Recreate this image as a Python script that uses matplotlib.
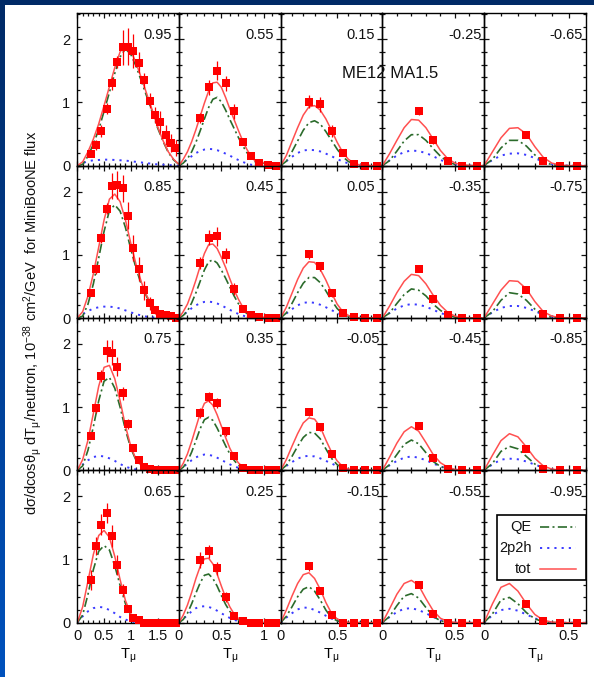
import matplotlib
matplotlib.use("Agg")
import matplotlib.pyplot as plt
import numpy as np
from matplotlib.ticker import MultipleLocator, FuncFormatter
from matplotlib.colors import LinearSegmentedColormap
from matplotlib.patches import Rectangle
from matplotlib.transforms import blended_transform_factory

plt.rcParams['font.family'] = ['Liberation Sans', 'DejaVu Sans']
plt.rcParams['mathtext.fontset'] = 'custom'
plt.rcParams['mathtext.rm'] = 'Liberation Sans'
plt.rcParams['mathtext.it'] = 'Liberation Sans'
plt.rcParams['mathtext.bf'] = 'Liberation Sans:bold'
plt.rcParams['mathtext.sf'] = 'Liberation Sans'

# ---------------- data ----------------
panel_labels = [["0.95", "0.55", "0.15", "-0.25", "-0.65"],
                ["0.85", "0.45", "0.05", "-0.35", "-0.75"],
                ["0.75", "0.35", "-0.05", "-0.45", "-0.85"],
                ["0.65", "0.25", "-0.15", "-0.55", "-0.95"]]
col_xmax = [1.9, 1.2, 0.9, 0.7, 0.6]

# curve T_mu grids per column
cx0 = [0.0, 0.1, 0.2, 0.3, 0.4, 0.5, 0.6, 0.7, 0.8, 0.9, 1.0, 1.1, 1.2, 1.3, 1.4, 1.5, 1.6, 1.7, 1.8, 1.9]
cx1 = [0.0, 0.05, 0.1, 0.15, 0.2, 0.25, 0.3, 0.35, 0.4, 0.45, 0.5, 0.55, 0.6, 0.65, 0.7, 0.75, 0.8, 0.85, 0.9, 1.2]
cx2 = [0.0, 0.05, 0.1, 0.15, 0.2, 0.25, 0.3, 0.35, 0.4, 0.45, 0.5, 0.55, 0.6, 0.65, 0.7, 0.75, 0.8, 0.85, 0.9]
cx3 = [0.0, 0.05, 0.1, 0.15, 0.2, 0.25, 0.3, 0.35, 0.4, 0.45, 0.5, 0.55, 0.6, 0.65, 0.7]
cx4 = [0.0, 0.05, 0.1, 0.15, 0.2, 0.25, 0.3, 0.35, 0.4, 0.45, 0.5, 0.55, 0.6]

# data T_mu bins per column
dx0 = [0.25, 0.35, 0.45, 0.55, 0.65, 0.75, 0.85, 0.95, 1.05, 1.15, 1.25, 1.35, 1.45, 1.55, 1.65, 1.75, 1.85]
dx1 = [0.25, 0.35, 0.45, 0.55, 0.65, 0.75, 0.85, 0.95, 1.05, 1.15]
dx2 = [0.25, 0.35, 0.45, 0.55, 0.65, 0.75, 0.85]
dx3 = [0.25, 0.35, 0.45, 0.55, 0.65]
dx4 = [0.25, 0.35, 0.45, 0.55]

# ---- column 0 ----
tot_p95 = [0, 0.06, 0.22, 0.42, 0.66, 0.95, 1.25, 1.55, 1.80, 1.91, 1.82, 1.62, 1.38, 1.13, 0.88, 0.62, 0.40, 0.22, 0.10, 0.02]
qe_p95 = [0, 0.02, 0.15, 0.34, 0.57, 0.86, 1.16, 1.46, 1.72, 1.85, 1.76, 1.57, 1.33, 1.09, 0.85, 0.60, 0.39, 0.21, 0.09, 0.02]
mp_p95 = [0, 0.04, 0.07, 0.085, 0.09, 0.095, 0.095, 0.09, 0.085, 0.08, 0.07, 0.06, 0.05, 0.04, 0.03, 0.02, 0.015, 0.01, 0.005, 0]
dat_p95 = [0.19, 0.32, 0.55, 0.90, 1.30, 1.64, 1.87, 1.88, 1.82, 1.63, 1.35, 1.03, 0.80, 0.69, 0.49, 0.36, 0.28]
err_p95 = [0.05, 0.08, 0.09, 0.09, 0.10, 0.10, 0.27, 0.29, 0.27, 0.16, 0.12, 0.12, 0.12, 0.18, 0.16, 0.14, 0.12]

tot_p85 = [0, 0.10, 0.35, 0.70, 1.12, 1.55, 1.88, 1.96, 1.84, 1.55, 1.18, 0.84, 0.56, 0.35, 0.20, 0.11, 0.05, 0.02, 0.01, 0]
qe_p85 = [0, 0.03, 0.22, 0.54, 0.95, 1.37, 1.70, 1.79, 1.69, 1.43, 1.09, 0.78, 0.52, 0.33, 0.19, 0.105, 0.05, 0.02, 0.01, 0]
mp_p85 = [0, 0.06, 0.11, 0.15, 0.17, 0.18, 0.18, 0.17, 0.15, 0.12, 0.09, 0.06, 0.04, 0.02, 0.01, 0.005, 0, 0, 0, 0]
dat_p85 = [0.40, 0.77, 1.26, 1.73, 2.09, 2.10, 2.05, 1.62, 1.11, 0.77, 0.44, 0.23, 0.12, 0.07, 0.05, 0.03, 0.0]
err_p85 = [0.05, 0.07, 0.08, 0.09, 0.20, 0.22, 0.22, 0.21, 0.21, 0.19, 0.15, 0.10, 0.06, 0.03, 0.03, 0.02, 0.02]

tot_p75 = [0, 0.17, 0.48, 0.90, 1.33, 1.63, 1.66, 1.45, 1.10, 0.70, 0.38, 0.17, 0.07, 0.02, 0.005, 0, 0, 0, 0, 0]
qe_p75 = [0, 0.07, 0.32, 0.69, 1.10, 1.41, 1.47, 1.30, 1.00, 0.64, 0.35, 0.155, 0.065, 0.02, 0.005, 0, 0, 0, 0, 0]
mp_p75 = [0, 0.09, 0.16, 0.21, 0.23, 0.22, 0.19, 0.15, 0.10, 0.06, 0.03, 0.015, 0.005, 0, 0, 0, 0, 0, 0, 0]
dat_p75 = [0.55, 0.98, 1.49, 1.89, 1.86, 1.64, 1.22, 0.74, 0.36, 0.16, 0.05, 0.02, 0.01, 0, 0, 0, 0]
err_p75 = [0.05, 0.07, 0.10, 0.17, 0.20, 0.15, 0.10, 0.08, 0.06, 0.04, 0.03, 0.02, 0.02, 0.01, 0.01, 0.01, 0.01]

tot_p65 = [0, 0.25, 0.66, 1.08, 1.38, 1.46, 1.35, 1.05, 0.68, 0.35, 0.14, 0.05, 0.015, 0, 0, 0, 0, 0, 0, 0]
qe_p65 = [0, 0.12, 0.45, 0.84, 1.13, 1.22, 1.15, 0.90, 0.59, 0.30, 0.12, 0.045, 0.012, 0, 0, 0, 0, 0, 0, 0]
mp_p65 = [0, 0.10, 0.18, 0.23, 0.25, 0.24, 0.20, 0.15, 0.09, 0.05, 0.02, 0.005, 0, 0, 0, 0, 0, 0, 0, 0]
dat_p65 = [0.67, 1.21, 1.55, 1.74, 1.37, 0.91, 0.52, 0.22, 0.08, 0.04, 0, 0, 0, 0, 0, 0, 0]
err_p65 = [0.16, 0.14, 0.17, 0.16, 0.17, 0.16, 0.10, 0.05, 0.04, 0.03, 0.02, 0.01, 0, 0, 0, 0, 0]

# ---- column 1 ----
tot_p55 = [0, 0.10, 0.22, 0.38, 0.57, 0.78, 0.99, 1.18, 1.31, 1.32, 1.24, 1.08, 0.90, 0.73, 0.56, 0.40, 0.26, 0.15, 0.07, 0]
qe_p55 = [0, 0.04, 0.11, 0.22, 0.37, 0.55, 0.74, 0.92, 1.05, 1.08, 1.01, 0.88, 0.73, 0.59, 0.45, 0.32, 0.21, 0.12, 0.06, 0]
mp_p55 = [0, 0.05, 0.10, 0.15, 0.20, 0.23, 0.255, 0.265, 0.26, 0.245, 0.22, 0.19, 0.16, 0.12, 0.09, 0.06, 0.035, 0.015, 0.005, 0]
dat_p55 = [0.76, 1.24, 1.50, 1.30, 0.86, 0.38, 0.15, 0.04, 0.01, 0]
err_p55 = [0.08, 0.12, 0.15, 0.12, 0.12, 0.06, 0.03, 0.01, 0, 0]

tot_p45 = [0, 0.10, 0.22, 0.40, 0.60, 0.82, 1.02, 1.16, 1.17, 1.10, 0.96, 0.80, 0.62, 0.45, 0.30, 0.18, 0.09, 0.04, 0.01, 0]
qe_p45 = [0, 0.04, 0.11, 0.24, 0.40, 0.58, 0.76, 0.89, 0.92, 0.87, 0.76, 0.63, 0.49, 0.35, 0.23, 0.14, 0.07, 0.03, 0.01, 0]
mp_p45 = [0, 0.05, 0.10, 0.155, 0.20, 0.235, 0.255, 0.26, 0.25, 0.23, 0.20, 0.165, 0.13, 0.095, 0.065, 0.04, 0.02, 0.01, 0.003, 0]
dat_p45 = [0.87, 1.27, 1.29, 0.99, 0.46, 0.14, 0.04, 0.01, 0, 0]
err_p45 = [0.10, 0.12, 0.15, 0.12, 0.10, 0.03, 0.02, 0, 0, 0]

tot_p35 = [0, 0.11, 0.26, 0.46, 0.68, 0.90, 1.06, 1.10, 1.03, 0.88, 0.70, 0.52, 0.35, 0.22, 0.12, 0.06, 0.025, 0.01, 0.003, 0]
qe_p35 = [0, 0.05, 0.14, 0.29, 0.47, 0.66, 0.80, 0.84, 0.79, 0.67, 0.53, 0.39, 0.26, 0.16, 0.08, 0.04, 0.015, 0.005, 0.002, 0]
mp_p35 = [0, 0.05, 0.11, 0.16, 0.205, 0.235, 0.25, 0.245, 0.23, 0.20, 0.165, 0.13, 0.095, 0.065, 0.04, 0.02, 0.01, 0.004, 0.001, 0]
dat_p35 = [0.91, 1.16, 1.06, 0.62, 0.23, 0.04, 0.01, 0, 0, 0]
err_p35 = [0.08, 0.08, 0.08, 0.07, 0.03, 0.02, 0, 0, 0, 0]

tot_p25 = [0, 0.12, 0.28, 0.48, 0.70, 0.89, 1.01, 1.02, 0.93, 0.77, 0.58, 0.40, 0.25, 0.14, 0.07, 0.03, 0.01, 0.004, 0.001, 0]
qe_p25 = [0, 0.05, 0.15, 0.30, 0.47, 0.63, 0.75, 0.77, 0.70, 0.58, 0.43, 0.29, 0.18, 0.10, 0.045, 0.02, 0.008, 0.002, 0, 0]
mp_p25 = [0, 0.06, 0.12, 0.18, 0.23, 0.255, 0.26, 0.25, 0.225, 0.19, 0.15, 0.11, 0.075, 0.045, 0.025, 0.012, 0.005, 0.002, 0, 0]
dat_p25 = [0.99, 1.13, 0.86, 0.40, 0.11, 0.03, 0, 0, 0, 0]
err_p25 = [0.13, 0.10, 0.10, 0.08, 0.03, 0.01, 0, 0, 0, 0]

# ---- column 2 ----
tot_p15 = [0, 0.16, 0.38, 0.60, 0.80, 0.93, 0.95, 0.88, 0.74, 0.56, 0.37, 0.21, 0.10, 0.04, 0.01, 0.003, 0, 0, 0]
qe_p15 = [0, 0.07, 0.22, 0.39, 0.56, 0.68, 0.71, 0.66, 0.54, 0.40, 0.26, 0.14, 0.065, 0.025, 0.007, 0.002, 0, 0, 0]
mp_p15 = [0, 0.07, 0.14, 0.20, 0.24, 0.25, 0.245, 0.225, 0.19, 0.15, 0.105, 0.065, 0.035, 0.015, 0.005, 0, 0, 0, 0]
dat_p15 = [1.01, 0.97, 0.55, 0.20, 0.03, 0, 0]
err_p15 = [0.10, 0.12, 0.10, 0.03, 0.01, 0, 0]

tot_p05 = [0, 0.17, 0.39, 0.61, 0.79, 0.89, 0.88, 0.77, 0.60, 0.40, 0.22, 0.10, 0.04, 0.01, 0.003, 0, 0, 0, 0]
qe_p05 = [0, 0.08, 0.23, 0.40, 0.55, 0.64, 0.64, 0.56, 0.43, 0.28, 0.15, 0.065, 0.025, 0.007, 0.002, 0, 0, 0, 0]
mp_p05 = [0, 0.07, 0.14, 0.20, 0.24, 0.25, 0.24, 0.21, 0.17, 0.125, 0.08, 0.045, 0.02, 0.008, 0.002, 0, 0, 0, 0]
dat_p05 = [1.01, 0.82, 0.40, 0.08, 0.01, 0, 0]
err_p05 = [0.07, 0.07, 0.06, 0.02, 0, 0, 0]

tot_m05 = [0, 0.17, 0.38, 0.58, 0.75, 0.83, 0.81, 0.69, 0.48, 0.29, 0.15, 0.06, 0.02, 0.005, 0, 0, 0, 0, 0]
qe_m05 = [0, 0.08, 0.22, 0.38, 0.52, 0.60, 0.59, 0.50, 0.34, 0.19, 0.09, 0.035, 0.01, 0.003, 0, 0, 0, 0, 0]
mp_m05 = [0, 0.07, 0.13, 0.185, 0.22, 0.23, 0.22, 0.19, 0.15, 0.11, 0.065, 0.03, 0.012, 0.004, 0, 0, 0, 0, 0]
dat_m05 = [0.92, 0.68, 0.26, 0.04, 0, 0, 0]
err_m05 = [0.06, 0.05, 0.04, 0.01, 0, 0, 0]

tot_m15 = [0, 0.20, 0.42, 0.62, 0.76, 0.79, 0.70, 0.53, 0.32, 0.15, 0.06, 0.02, 0.005, 0, 0, 0, 0, 0, 0]
qe_m15 = [0, 0.10, 0.25, 0.41, 0.53, 0.57, 0.50, 0.36, 0.20, 0.08, 0.03, 0.008, 0.002, 0, 0, 0, 0, 0, 0]
mp_m15 = [0, 0.08, 0.15, 0.21, 0.24, 0.235, 0.20, 0.16, 0.11, 0.065, 0.03, 0.01, 0.003, 0, 0, 0, 0, 0, 0]
dat_m15 = [0.89, 0.50, 0.12, 0, 0, 0, 0]
err_m15 = [0.07, 0.05, 0.02, 0, 0, 0, 0]

# ---- column 3 ----
tot_m25 = [0, 0.19, 0.40, 0.60, 0.73, 0.72, 0.60, 0.42, 0.24, 0.11, 0.04, 0.01, 0.002, 0, 0]
qe_m25 = [0, 0.08, 0.23, 0.39, 0.49, 0.49, 0.40, 0.27, 0.15, 0.06, 0.02, 0.005, 0, 0, 0]
mp_m25 = [0, 0.085, 0.16, 0.215, 0.24, 0.23, 0.20, 0.15, 0.09, 0.05, 0.02, 0.006, 0.001, 0, 0]
dat_m25 = [0.86, 0.40, 0.08, 0, 0]
err_m25 = [0.06, 0.05, 0.02, 0, 0]

tot_m35 = [0, 0.19, 0.40, 0.58, 0.69, 0.67, 0.54, 0.36, 0.20, 0.09, 0.03, 0.008, 0.002, 0, 0]
qe_m35 = [0, 0.08, 0.23, 0.37, 0.46, 0.44, 0.35, 0.22, 0.12, 0.05, 0.015, 0.004, 0, 0, 0]
mp_m35 = [0, 0.08, 0.15, 0.20, 0.22, 0.21, 0.18, 0.13, 0.08, 0.04, 0.015, 0.004, 0, 0, 0]
dat_m35 = [0.78, 0.30, 0.04, 0, 0]
err_m35 = [0.04, 0.03, 0.01, 0, 0]

tot_m45 = [0, 0.21, 0.43, 0.61, 0.69, 0.62, 0.44, 0.25, 0.12, 0.05, 0.015, 0.004, 0, 0, 0]
qe_m45 = [0, 0.09, 0.25, 0.41, 0.48, 0.42, 0.28, 0.14, 0.06, 0.02, 0.005, 0, 0, 0, 0]
mp_m45 = [0, 0.08, 0.15, 0.20, 0.22, 0.20, 0.16, 0.11, 0.06, 0.03, 0.01, 0.003, 0, 0, 0]
dat_m45 = [0.70, 0.20, 0.02, 0, 0]
err_m45 = [0.04, 0.02, 0, 0, 0]

tot_m55 = [0, 0.22, 0.45, 0.62, 0.67, 0.59, 0.38, 0.19, 0.07, 0.02, 0.005, 0, 0, 0, 0]
qe_m55 = [0, 0.10, 0.27, 0.42, 0.46, 0.39, 0.24, 0.10, 0.03, 0.005, 0, 0, 0, 0, 0]
mp_m55 = [0, 0.09, 0.17, 0.22, 0.23, 0.20, 0.15, 0.09, 0.04, 0.015, 0.002, 0, 0, 0, 0]
dat_m55 = [0.59, 0.14, 0, 0, 0]
err_m55 = [0.03, 0.02, 0, 0, 0]

# ---- column 4 ----
tot_m65 = [0, 0.22, 0.44, 0.59, 0.60, 0.50, 0.30, 0.13, 0.04, 0.01, 0, 0, 0]
qe_m65 = [0, 0.10, 0.28, 0.40, 0.40, 0.31, 0.17, 0.06, 0.015, 0.003, 0, 0, 0]
mp_m65 = [0, 0.09, 0.16, 0.19, 0.195, 0.17, 0.12, 0.06, 0.025, 0.007, 0.001, 0, 0]
dat_m65 = [0.49, 0.08, 0, 0]
err_m65 = [0.03, 0.01, 0, 0]

tot_m75 = [0, 0.22, 0.44, 0.59, 0.58, 0.46, 0.26, 0.10, 0.03, 0.007, 0, 0, 0]
qe_m75 = [0, 0.10, 0.28, 0.40, 0.38, 0.28, 0.14, 0.05, 0.01, 0.002, 0, 0, 0]
mp_m75 = [0, 0.09, 0.16, 0.19, 0.19, 0.16, 0.11, 0.05, 0.02, 0.005, 0, 0, 0]
dat_m75 = [0.45, 0.06, 0, 0]
err_m75 = [0.03, 0.01, 0, 0]

tot_m85 = [0, 0.24, 0.47, 0.58, 0.53, 0.37, 0.19, 0.07, 0.02, 0.004, 0, 0, 0]
qe_m85 = [0, 0.11, 0.30, 0.38, 0.34, 0.22, 0.10, 0.03, 0.007, 0.001, 0, 0, 0]
mp_m85 = [0, 0.095, 0.17, 0.185, 0.175, 0.14, 0.09, 0.045, 0.015, 0.004, 0, 0, 0]
dat_m85 = [0.34, 0.02, 0, 0]
err_m85 = [0.02, 0.01, 0, 0]

tot_m95 = [0, 0.30, 0.56, 0.62, 0.50, 0.30, 0.13, 0.04, 0.01, 0, 0, 0, 0]
qe_m95 = [0, 0.14, 0.36, 0.40, 0.30, 0.16, 0.06, 0.015, 0.003, 0, 0, 0, 0]
mp_m95 = [0, 0.12, 0.20, 0.22, 0.19, 0.13, 0.07, 0.025, 0.007, 0, 0, 0, 0]
dat_m95 = [0.29, 0.03, 0, 0]
err_m95 = [0.02, 0.01, 0, 0]

curve_x = [cx0, cx1, cx2, cx3, cx4]
data_x = [dx0, dx1, dx2, dx3, dx4]
tot_curves = {"0.95": tot_p95, "0.85": tot_p85, "0.75": tot_p75, "0.65": tot_p65,
              "0.55": tot_p55, "0.45": tot_p45, "0.35": tot_p35, "0.25": tot_p25,
              "0.15": tot_p15, "0.05": tot_p05, "-0.05": tot_m05, "-0.15": tot_m15,
              "-0.25": tot_m25, "-0.35": tot_m35, "-0.45": tot_m45, "-0.55": tot_m55,
              "-0.65": tot_m65, "-0.75": tot_m75, "-0.85": tot_m85, "-0.95": tot_m95}
qe_curves = {"0.95": qe_p95, "0.85": qe_p85, "0.75": qe_p75, "0.65": qe_p65,
             "0.55": qe_p55, "0.45": qe_p45, "0.35": qe_p35, "0.25": qe_p25,
             "0.15": qe_p15, "0.05": qe_p05, "-0.05": qe_m05, "-0.15": qe_m15,
             "-0.25": qe_m25, "-0.35": qe_m35, "-0.45": qe_m45, "-0.55": qe_m55,
             "-0.65": qe_m65, "-0.75": qe_m75, "-0.85": qe_m85, "-0.95": qe_m95}
mp_curves = {"0.95": mp_p95, "0.85": mp_p85, "0.75": mp_p75, "0.65": mp_p65,
             "0.55": mp_p55, "0.45": mp_p45, "0.35": mp_p35, "0.25": mp_p25,
             "0.15": mp_p15, "0.05": mp_p05, "-0.05": mp_m05, "-0.15": mp_m15,
             "-0.25": mp_m25, "-0.35": mp_m35, "-0.45": mp_m45, "-0.55": mp_m55,
             "-0.65": mp_m65, "-0.75": mp_m75, "-0.85": mp_m85, "-0.95": mp_m95}
data_vals = {"0.95": dat_p95, "0.85": dat_p85, "0.75": dat_p75, "0.65": dat_p65,
             "0.55": dat_p55, "0.45": dat_p45, "0.35": dat_p35, "0.25": dat_p25,
             "0.15": dat_p15, "0.05": dat_p05, "-0.05": dat_m05, "-0.15": dat_m15,
             "-0.25": dat_m25, "-0.35": dat_m35, "-0.45": dat_m45, "-0.55": dat_m55,
             "-0.65": dat_m65, "-0.75": dat_m75, "-0.85": dat_m85, "-0.95": dat_m95}
data_errs = {"0.95": err_p95, "0.85": err_p85, "0.75": err_p75, "0.65": err_p65,
             "0.55": err_p55, "0.45": err_p45, "0.35": err_p35, "0.25": err_p25,
             "0.15": err_p15, "0.05": err_p05, "-0.05": err_m05, "-0.15": err_m15,
             "-0.25": err_m25, "-0.35": err_m35, "-0.45": err_m45, "-0.55": err_m55,
             "-0.65": err_m65, "-0.75": err_m75, "-0.85": err_m85, "-0.95": err_m95}

legend_labels = ["QE", "2p2h", "tot"]

# ---------------- styles ----------------
C_TOT = '#ff5050'
C_QE = '#2b6b2b'
C_MP = '#3a3aff'
C_DAT = '#ff0000'
LS_QE = (0, (5.5, 2.0, 1.2, 2.0))
LS_MP = (0, (1.1, 2.6))
FS = 10.5

W, H = 594, 677
fig = plt.figure(figsize=(W / 100, H / 100), dpi=100)

# slide-like background frame
bg = fig.add_axes([0, 0, 1, 1], zorder=-10)
bg.set_axis_off()
grad = np.linspace(0, 1, 256).reshape(-1, 1)
cmap = LinearSegmentedColormap.from_list('bg', ['#002a66', '#0052bd'])
bg.imshow(grad, extent=[0, 1, 0, 1], aspect='auto', cmap=cmap, origin='upper')
bg.add_patch(Rectangle((5 / W, 0), 1, 1 - 5 / H, facecolor='white', edgecolor='none'))
bg.set_xlim(0, 1)
bg.set_ylim(0, 1)

x0_px, y0_px = 77.3, 13.3
cw, rh = 101.68, 152.35
fmt = FuncFormatter(lambda v, p: '%g' % v)

legend_ax = None
for r in range(4):
    for c in range(5):
        lab = panel_labels[r][c]
        left = (x0_px + c * cw) / W
        bottom = 1 - (y0_px + (r + 1) * rh) / H
        ax = fig.add_axes([left, bottom, cw / W, rh / H])
        ax.patch.set_alpha(0)
        ax.set_xlim(0, col_xmax[c])
        ax.set_ylim(0, 2.41)
        ax.plot(curve_x[c], mp_curves[lab], color=C_MP, lw=1.4, ls=LS_MP, zorder=2)
        ax.plot(curve_x[c], qe_curves[lab], color=C_QE, lw=1.2, ls=LS_QE, zorder=2)
        ax.plot(curve_x[c], tot_curves[lab], color=C_TOT, lw=1.1, zorder=2)
        eb = ax.errorbar(data_x[c], data_vals[lab], yerr=data_errs[lab], fmt='s',
                         color=C_DAT, ms=5.2, mew=0, ecolor=C_DAT, elinewidth=0.9,
                         capsize=1.8, capthick=0.9, zorder=4)
        for ch in eb.get_children():
            ch.set_clip_on(False)

        ax.xaxis.set_major_locator(MultipleLocator(0.5))
        ax.xaxis.set_minor_locator(MultipleLocator(0.1))
        ax.yaxis.set_major_locator(MultipleLocator(1))
        ax.yaxis.set_minor_locator(MultipleLocator(0.2))
        ax.xaxis.set_major_formatter(fmt)
        ax.yaxis.set_major_formatter(fmt)
        ax.tick_params(which='both', direction='in', top=True, right=True,
                       labelsize=FS, colors='#111111', width=0.9)
        ax.tick_params(which='major', length=3.4)
        ax.tick_params(which='minor', length=2.0)
        ax.tick_params(axis='x', pad=4.5)
        ax.tick_params(axis='y', pad=5)
        ax.tick_params(labelleft=(c == 0), labelbottom=(r == 3))
        for sp in ax.spines.values():
            sp.set_linewidth(1.0)
            sp.set_color('black')

        trans = blended_transform_factory(ax.transAxes, ax.transData)
        xf = 0.975 if lab.startswith('-') else 0.93
        ax.text(xf, 2.07, lab, transform=trans, ha='right', va='center',
                fontsize=FS, color='#111111', zorder=6)

        if r == 3:
            ax.set_xlabel(r'T$_\mu$', fontsize=FS, labelpad=3)
        if r == 3 and c == 4:
            legend_ax = ax

# gnuplot-style key (text right-aligned, sample to its right), in axes coords
ta = legend_ax.transAxes
legend_ax.add_patch(Rectangle((0.128, 0.280), 0.872, 0.427, transform=ta,
                              facecolor='white', edgecolor='black', lw=1.2,
                              zorder=8, clip_on=False))
key_y = [0.631, 0.489, 0.352]
key_styles = [(C_QE, LS_QE, 1.2), (C_MP, LS_MP, 1.4), (C_TOT, '-', 1.1)]
for txt, ky, (col, ls, lw) in zip(legend_labels, key_y, key_styles):
    legend_ax.text(0.466, ky, txt, transform=ta, ha='right', va='center',
                   fontsize=FS, color='#111111', zorder=9)
    legend_ax.plot([0.548, 0.909], [ky, ky], transform=ta, color=col, ls=ls,
                   lw=lw, zorder=9, clip_on=False)

fig.text(390 / W, 1 - 73.3 / H, 'ME12 MA1.5', fontsize=12, ha='center',
         va='center', color='#111111')
fig.text(33 / W, 1 - 323 / H,
         r'd$\sigma$/dcos$\theta_\mu$ dT$_\mu$/neutron, 10$^{-38}$ cm$^2$/GeV  for MiniBooNE flux',
         rotation=90, ha='center', va='center', fontsize=FS, color='#111111')

fig.savefig('out.png', dpi=100)
